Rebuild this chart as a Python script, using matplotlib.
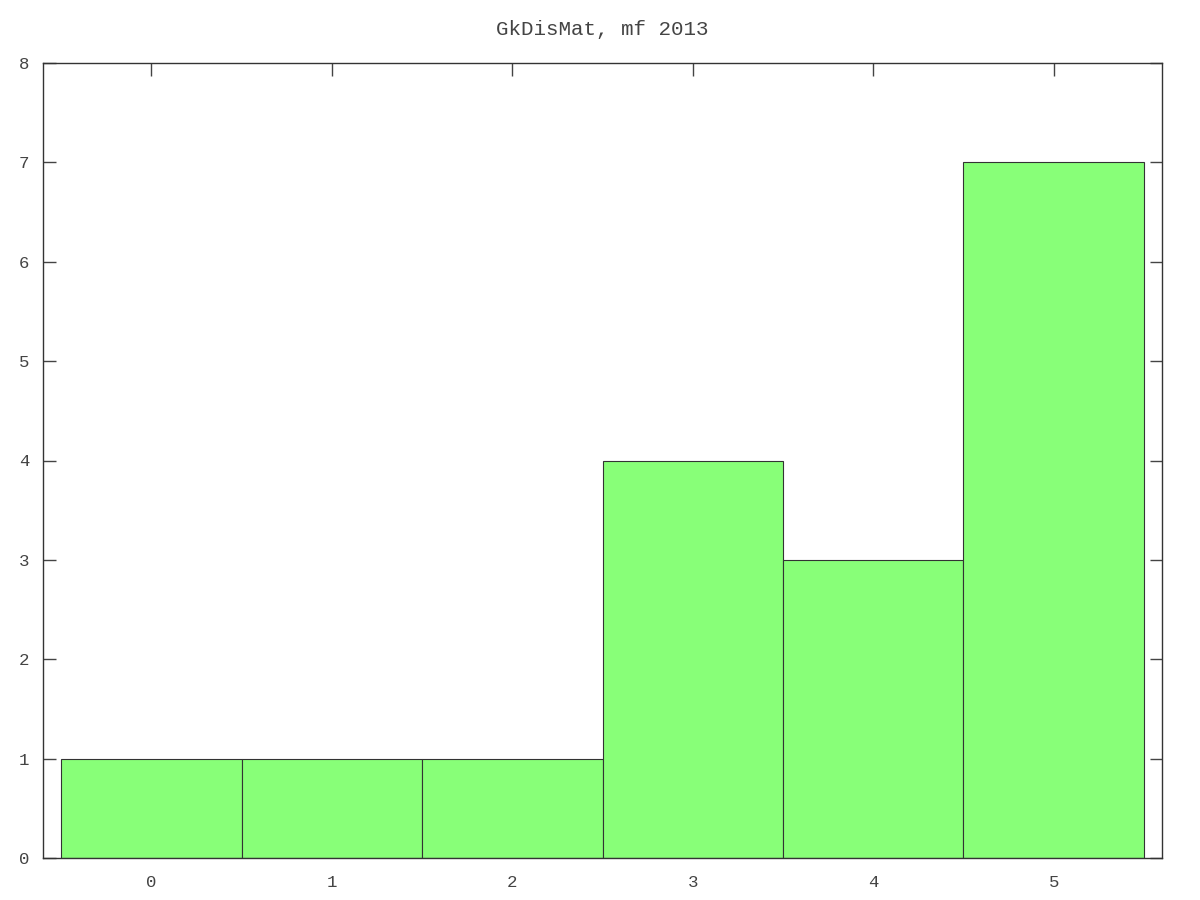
import matplotlib
matplotlib.use("Agg")
import matplotlib.pyplot as plt

# histogram data
categories = [0, 1, 2, 3, 4, 5]
counts = [1, 1, 1, 4, 3, 7]
title = "GkDisMat, mf 2013"

plt.rcParams['font.family'] = ['Liberation Mono', 'DejaVu Sans']
plt.rcParams['font.size'] = 12.5

fig = plt.figure(figsize=(12, 9), dpi=100)
ax = fig.add_axes([43 / 1200, 1 - 858 / 900, (1162 - 43) / 1200, (858 - 63) / 900])

ax.bar(categories, counts, width=1.0, color='#88ff78', edgecolor='#333333', linewidth=0.8)

ax.set_xlim(-0.6, 5.6)
ax.set_ylim(0, 8)
ax.set_xticks(categories)
ax.set_yticks(range(0, 9))
ax.set_axisbelow(True)  # bars cover the bottom ticks, like gnuplot
ax.tick_params(direction='in', length=9, width=1, color='#444444', labelcolor='#444444',
               top=True, right=True)
ax.tick_params(axis='x', pad=12)
ax.tick_params(axis='y', pad=10)
for s in ax.spines.values():
    s.set_color('#333333')
    s.set_linewidth(1)
ax.set_title(title, color='#444444', pad=20)

fig.savefig('out.png', dpi=100, facecolor='white')
